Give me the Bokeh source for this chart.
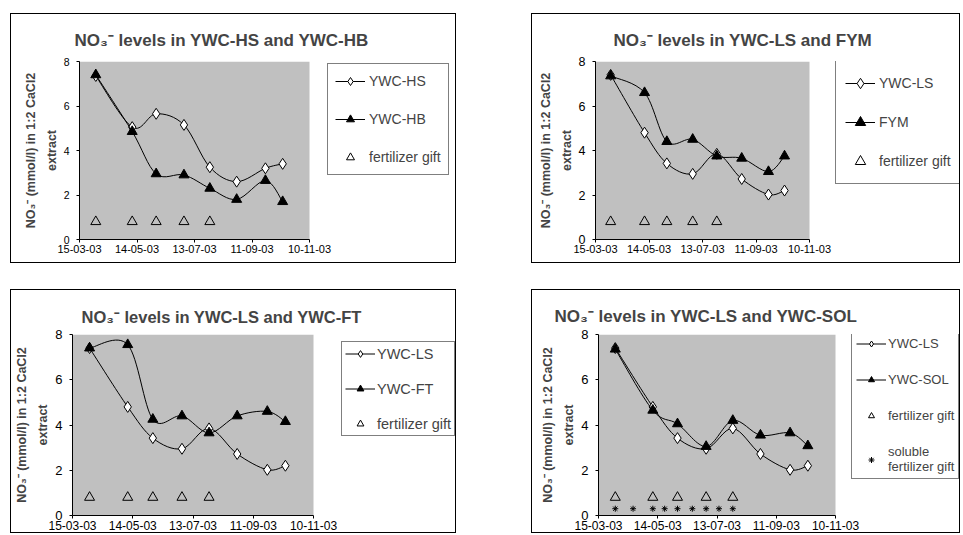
import pandas as pd
from bokeh.plotting import figure
from bokeh.models import (Range1d, FixedTicker, DatetimeTickFormatter, Legend,
                          LegendItem, ColumnDataSource, Spacer, BoxAnnotation)
from bokeh.layouts import row, column
from bokeh.embed import file_html
from bokeh.resources import INLINE

FONT = "Liberation Sans"

# ---------------- data ----------------
x_tick_labels = ["15-03-03", "14-05-03", "13-07-03", "11-09-03", "10-11-03"]
y_ticks = [0, 2, 4, 6, 8]

sample_dates = ["01-04-03", "09-05-03", "03-06-03", "02-07-03",
                "29-07-03", "26-08-03", "25-09-03", "13-10-03"]
fertilizer_dates = ["01-04-03", "09-05-03", "03-06-03", "02-07-03", "29-07-03"]
fertilizer_level = [0.8, 0.8, 0.8, 0.8, 0.8]
soluble_dates = ["01-04-03", "19-04-03", "09-05-03", "21-05-03", "03-06-03",
                 "18-06-03", "02-07-03", "15-07-03", "29-07-03"]
soluble_level = [0.3, 0.3, 0.3, 0.3, 0.3, 0.3, 0.3, 0.3, 0.3]

ywc_hs = [7.35, 5.05, 5.65, 5.15, 3.25, 2.6, 3.2, 3.4]
ywc_hb = [7.4, 4.85, 2.95, 2.9, 2.3, 1.8, 2.65, 1.7]
ywc_ls = [7.4, 4.8, 3.42, 2.95, 3.85, 2.72, 2.02, 2.2]
fym = [7.35, 6.6, 4.4, 4.5, 3.75, 3.65, 3.05, 3.75]
ywc_ft = [7.4, 7.55, 4.25, 4.4, 3.65, 4.4, 4.6, 4.15]
ywc_sol = [7.35, 4.65, 4.05, 3.05, 4.2, 3.55, 3.65, 3.08]

titles = ["NO\u2083\u207b levels in YWC-HS and YWC-HB",
          "NO\u2083\u207b levels in YWC-LS and FYM",
          "NO\u2083\u207b levels in YWC-LS and YWC-FT",
          "NO\u2083\u207b levels in YWC-LS and YWC-SOL"]
y_label = "NO\u2083\u207b (mmol/l) in 1:2 CaCl2\nextract"


def ms(d):
    return pd.to_datetime(d, format="%d-%m-%y").value / 1e6


tick_ms = [ms(d) for d in x_tick_labels]
sample_ms = [ms(d) for d in sample_dates]
fert_ms = [ms(d) for d in fertilizer_dates]
sol_ms = [ms(d) for d in soluble_dates]


def smooth(xs, ys):
    n = len(xs)
    d = {k: [] for k in ["x0", "y0", "x1", "y1", "cx0", "cy0", "cx1", "cy1"]}
    for i in range(n - 1):
        a = max(i - 1, 0)
        b = min(i + 2, n - 1)
        d["x0"].append(xs[i]); d["y0"].append(ys[i])
        d["x1"].append(xs[i + 1]); d["y1"].append(ys[i + 1])
        d["cx0"].append(xs[i] + (xs[i + 1] - xs[a]) / 6)
        d["cy0"].append(ys[i] + (ys[i + 1] - ys[a]) / 6)
        d["cx1"].append(xs[i + 1] - (xs[b] - xs[i]) / 6)
        d["cy1"].append(ys[i + 1] - (ys[b] - ys[i]) / 6)
    return ColumnDataSource(d)


fmt = "%d-%m-%y"
formatter = DatetimeTickFormatter(microseconds=fmt, milliseconds=fmt, seconds=fmt,
                                  minsec=fmt, minutes=fmt, hourmin=fmt, hours=fmt,
                                  days=fmt, months=fmt, years=fmt)


def make_panel(cfg):
    mbr = 2
    frame_w = cfg["w"] - cfg["mbl"] - mbr
    x_end = tick_ms[0] + (tick_ms[-1] - tick_ms[0]) * frame_w / cfg["plot_w"]
    p = figure(width=cfg["w"], height=cfg["h"], x_axis_type="datetime",
               x_range=Range1d(tick_ms[0], x_end),
               y_range=Range1d(y_ticks[0], y_ticks[-1]),
               output_backend="svg", toolbar_location=None,
               min_border_left=cfg["mbl"], min_border_right=mbr,
               min_border_top=cfg["mbt"], min_border_bottom=cfg["mbb"],
               background_fill_color="white", border_fill_color="white",
               outline_line_color=None,
               styles={"border": "1px solid black"},
               title=cfg["title"])
    p.add_layout(BoxAnnotation(left=tick_ms[0], right=tick_ms[-1],
                               bottom=y_ticks[0], top=y_ticks[-1],
                               fill_color="#c0c0c0", fill_alpha=1,
                               line_color=None, level="underlay"))
    p.title.align = "left"
    p.title.vertical_align = "middle"
    p.title.offset = cfg["t_off"]
    p.title.standoff = cfg["t_stand"]
    p.title.text_font = FONT
    p.title.text_font_style = "bold"
    p.title.text_font_size = cfg["t_size"]
    p.xgrid.visible = False
    p.ygrid.visible = False

    for ax in (p.xaxis[0], p.yaxis[0]):
        ax.axis_line_color = "black"
        ax.major_tick_line_color = "black"
        ax.major_tick_out = 3
        ax.major_tick_in = 0
        ax.minor_tick_line_color = None
        ax.major_label_text_font = FONT
        ax.major_label_text_color = "black"
    p.xaxis.ticker = FixedTicker(ticks=tick_ms)
    p.xaxis.bounds = (tick_ms[0], tick_ms[-1])
    p.xaxis.formatter = formatter
    p.xaxis.major_label_text_font_size = cfg["xt_size"]
    p.xaxis.major_label_standoff = 2
    p.yaxis.ticker = FixedTicker(ticks=y_ticks)
    p.yaxis.major_label_text_font_size = cfg["yt_size"]
    p.yaxis.major_label_standoff = 7
    p.yaxis.axis_label = y_label
    p.yaxis.axis_label_text_font = FONT
    p.yaxis.axis_label_text_font_style = "bold"
    p.yaxis.axis_label_text_font_size = "12.5px"
    p.yaxis.axis_label_text_line_height = 1.5
    p.yaxis.axis_label_standoff = 2

    items = []
    for label, ys, marker, fill, size in cfg["series"]:
        rc = p.bezier(x0="x0", y0="y0", x1="x1", y1="y1", cx0="cx0", cy0="cy0",
                      cx1="cx1", cy1="cy1", source=smooth(sample_ms, ys),
                      line_color="black", line_width=1)
        rm = p.scatter(sample_ms, ys, marker=marker, size=size,
                       fill_color=fill, line_color="black", line_width=1)
        items.append(LegendItem(label=label, renderers=[rc, rm]))
    rf = p.scatter(fert_ms, fertilizer_level, marker="triangle", size=10,
                   fill_alpha=0, line_color="black", line_width=1)
    items.append(LegendItem(label="fertilizer gift", renderers=[rf]))
    if cfg.get("soluble"):
        rs = p.scatter(sol_ms, soluble_level, marker="asterisk", size=6,
                       line_color="black", line_width=1)
        items.append(LegendItem(label="soluble\nfertilizer gift", renderers=[rs]))

    lg = Legend(items=items, location=cfg["lg_loc"],
                border_line_color="black", border_line_width=1,
                background_fill_color="white", background_fill_alpha=1,
                label_text_font=FONT, label_text_font_size=cfg["lg_size"],
                label_height=cfg["lg_h"], glyph_height=cfg["lg_h"],
                glyph_width=cfg["lg_gw"], spacing=cfg["lg_sp"],
                padding=cfg["lg_pad"], margin=0, label_standoff=cfg["lg_so"],
                label_text_line_height=1.15)
    p.add_layout(lg)
    return p


diamond = ("diamond", "white", 11)
tri = ("triangle", "black", 10)

cfgs = [
    dict(w=446, h=250, mbl=68, plot_w=230, mbt=47, mbb=25,
         title=titles[0], t_off=-5, t_stand=22, t_size="17px",
         xt_size="11px", yt_size="10.5px",
         series=[("YWC-HS", ywc_hs) + diamond, ("YWC-HB", ywc_hb) + tri],
         lg_loc=(248, 64), lg_size="14px", lg_h=20, lg_gw=30, lg_sp=18,
         lg_pad=7, lg_so=4),
    dict(w=429, h=250, mbl=63, plot_w=214, mbt=47, mbb=25,
         title=titles[1], t_off=18, t_stand=22, t_size="17px",
         xt_size="11px", yt_size="12.5px",
         series=[("YWC-LS", ywc_ls) + diamond, ("FYM", fym) + tri],
         lg_loc=(240, 55), lg_size="14px", lg_h=26, lg_gw=30, lg_sp=13,
         lg_pad=9, lg_so=4),
    dict(w=446, h=244, mbl=61, plot_w=241, mbt=44, mbb=19,
         title=titles[2], t_off=9, t_stand=16, t_size="16.5px",
         xt_size="12px", yt_size="13px",
         series=[("YWC-LS", ywc_ls) + diamond, ("YWC-FT", ywc_ft) + tri],
         lg_loc=(269, 79), lg_size="14.5px", lg_h=17, lg_gw=30, lg_sp=18,
         lg_pad=3, lg_so=2),
    dict(w=429, h=244, mbl=66, plot_w=237, mbt=44, mbb=19,
         title=titles[3], t_off=-44, t_stand=16, t_size="17px",
         xt_size="12px", yt_size="13px",
         series=[("YWC-LS", ywc_ls) + diamond, ("YWC-SOL", ywc_sol) + tri],
         soluble=True,
         lg_loc=(253, 36), lg_size="13px", lg_h=15, lg_gw=30, lg_sp=21,
         lg_pad=4, lg_so=2),
]

panels = [make_panel(c) for c in cfgs]
layout = column(
    Spacer(width=960, height=13),
    row(Spacer(width=10, height=10), panels[0], Spacer(width=75, height=10), panels[1]),
    Spacer(width=960, height=26),
    row(Spacer(width=10, height=10), panels[2], Spacer(width=75, height=10), panels[3]),
)

open("out.html", "w").write(file_html(layout, INLINE))
